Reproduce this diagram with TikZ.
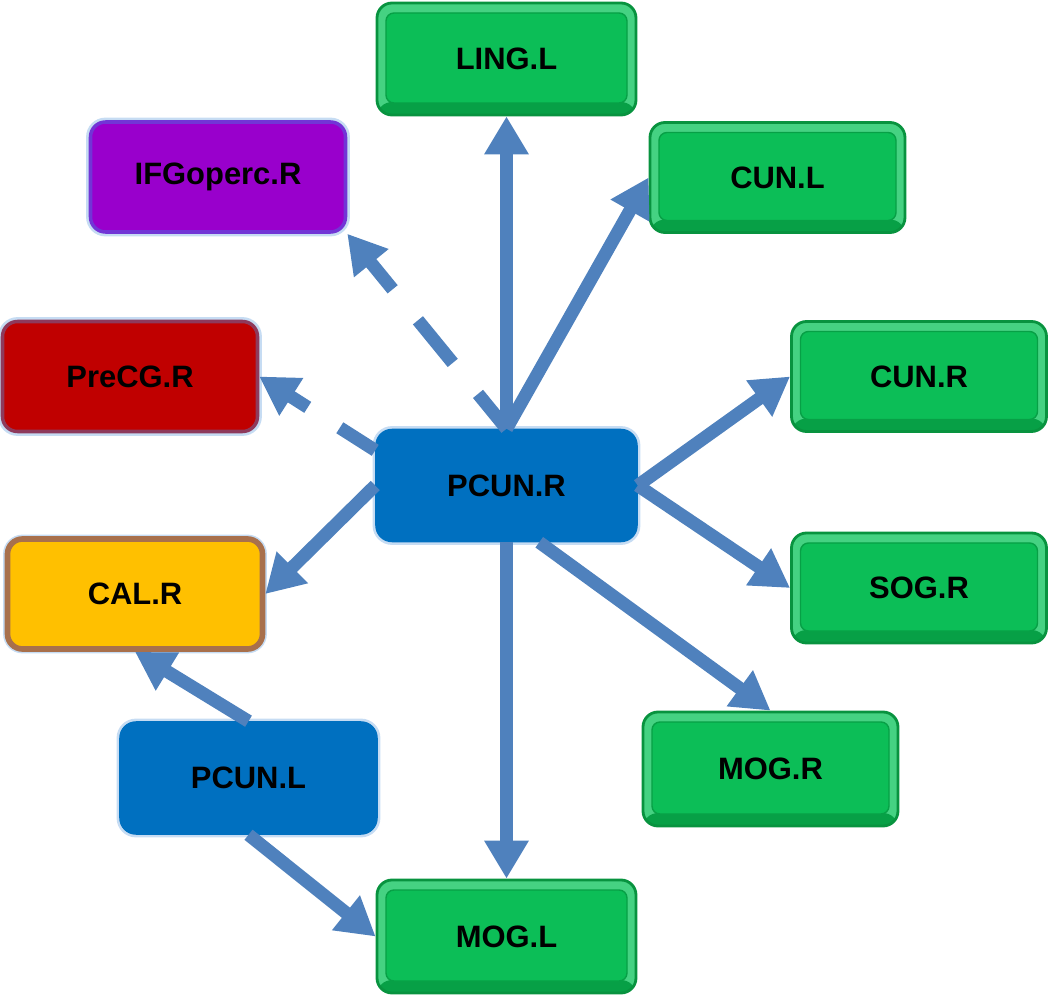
\documentclass[tikz,border=0pt]{standalone}
\usepackage{fontspec}
\setmainfont{Liberation Sans}
\usetikzlibrary{arrows.meta}
\definecolor{linkblue}{HTML}{4F81BD}
\definecolor{leafgreen}{HTML}{0CBE57}
\definecolor{bevellight}{HTML}{45D282}
\definecolor{beveldark}{HTML}{07A046}
\definecolor{edgegreen}{HTML}{08933F}
\definecolor{hubblue}{HTML}{0070C0}
\definecolor{glowblue}{HTML}{C6DCF3}
\definecolor{ifgpurple}{HTML}{9900CC}
\definecolor{ifgedge}{HTML}{7235D6}
\definecolor{precgred}{HTML}{C00000}
\definecolor{precgedge}{HTML}{8E3A5C}
\definecolor{calyellow}{HTML}{FFC000}
\definecolor{caledge}{HTML}{A8704C}

\begin{document}
\begin{tikzpicture}[
  region/.style={rounded corners=0.15cm, minimum width=2.55cm, minimum height=1.1cm,
    inner sep=0pt, text=black, font=\fontsize{8.8}{10}\selectfont\bfseries},
  glowbox/.style={region, preaction={draw=glowblue, line width=2.5pt}, line width=1pt},
  leaf/.style={region, fill=bevellight, draw=edgegreen, line width=0.8pt,
    path picture={
      \fill[beveldark] (path picture bounding box.south west) rectangle
        ([yshift=0.13cm]path picture bounding box.south east);
      \fill[leafgreen, draw=beveldark, line width=0.4pt, rounded corners=0.08cm]
        ([shift={(0.09,0.12)}]path picture bounding box.south west) rectangle
        ([shift={(-0.09,-0.1)}]path picture bounding box.north east);
    }},
  hub/.style={glowbox, fill=hubblue, draw=hubblue},
  link/.style={linkblue, line width=3.7pt, -{Triangle[length=0.38cm,width=0.42cm]}}
]
\useasboundingbox (0,0) rectangle (10.5,-9.96);
% Central region
\node[hub, minimum width=2.59cm] (pcunr) at (5.065,-4.855) {PCUN.R};
\node[hub] (pcunl) at (2.485,-7.78) {PCUN.L};
% Target regions on the left
\node[glowbox, fill=ifgpurple, draw=ifgedge] (ifgo) at (2.18,-1.77) {IFGoperc.R};
\node[glowbox, fill=precgred, draw=precgedge] (precg) at (1.3,-3.765) {PreCG.R};
\node[glowbox, fill=calyellow, draw=caledge, line width=1.6pt] (calr) at (1.35,-5.94) {CAL.R};
% Target regions in green
\node[leaf, minimum width=2.59cm, minimum height=1.12cm] (lingl) at (5.065,-0.59) {LING.L};
\node[leaf] (cunl) at (7.775,-1.775) {CUN.L};
\node[leaf] (cunr) at (9.19,-3.765) {CUN.R};
\node[leaf] (sogr) at (9.19,-5.88) {SOG.R};
\node[leaf, minimum height=1.14cm] (mogr) at (7.705,-7.69) {MOG.R};
\node[leaf, minimum width=2.59cm, minimum height=1.13cm] (mogl) at (5.065,-9.365) {MOG.L};
% Connections from PCUN.R
\draw[link] (pcunr.north) -- (lingl.south);
\draw[link] (pcunr.north) -- (cunl.west);
\draw[link, dash pattern=on 0.45cm off 0.4cm on 0.55cm off 0.4cm on 3cm]
  (pcunr.north) -- (ifgo.south east);
\draw[link, dash pattern=on 0.42cm off 0.38cm on 3cm] (pcunr.165) -- (precg.east);
\draw[link] (pcunr.west) -- (calr.east);
\draw[link] (pcunr.east) -- (cunr.west);
\draw[link] (pcunr.east) -- (sogr.west);
\draw[link] (pcunr.300) -- (mogr.north);
\draw[link] (pcunr.south) -- (mogl.north);
% Connections from PCUN.L
\draw[link] (pcunl.north) -- (calr.south);
\draw[link] (pcunl.south) -- (mogl.west);
\end{tikzpicture}
\end{document}
